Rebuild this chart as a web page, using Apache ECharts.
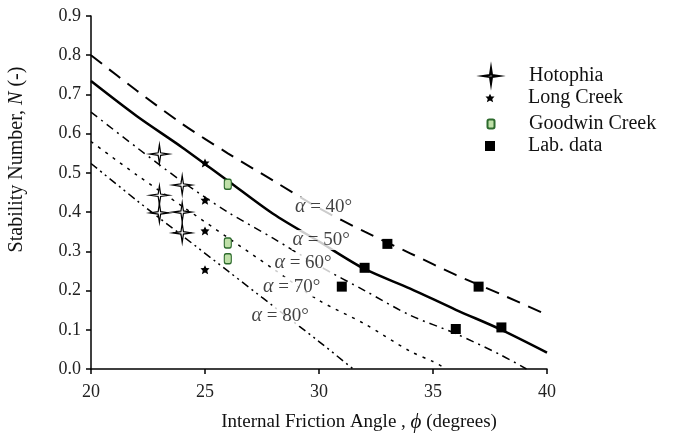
<!DOCTYPE html>
<html>
<head>
<meta charset="utf-8">
<title>Stability Number vs Internal Friction Angle</title>
<script src="https://cdn.jsdelivr.net/npm/echarts@6/dist/echarts.min.js"></script>
<style>
  html, body { margin: 0; padding: 0; background: #fff; }
  #chart { width: 679px; height: 436px; }
</style>
</head>
<body>
<div id="chart"></div>
<script>
// curves for each slope angle (phi in degrees, N)
const phi40 = [20, 22, 24, 26, 28, 30, 32, 34, 36, 38, 40]
const n40 = [0.80, 0.71, 0.625, 0.55, 0.48, 0.41, 0.35, 0.295, 0.24, 0.19, 0.138]
const phi50 = [20, 22, 24, 26, 28, 30, 32, 34, 36, 38, 40]
const n50 = [0.734, 0.645, 0.565, 0.48, 0.395, 0.325, 0.255, 0.205, 0.151, 0.10, 0.042]
const phi60 = [20, 22, 24, 26, 28, 30, 32, 34, 36, 38, 39.1]
const n60 = [0.655, 0.565, 0.478, 0.40, 0.333, 0.263, 0.20, 0.137, 0.09, 0.035, 0]
const phi70 = [20, 22, 24, 26, 28, 30, 32, 34, 35, 35.6]
const n70 = [0.58, 0.495, 0.415, 0.335, 0.255, 0.175, 0.115, 0.045, 0.019, 0]
const phi80 = [20, 22, 24, 26, 28, 30, 31.5]
const n80 = [0.524, 0.43, 0.34, 0.25, 0.16, 0.07, 0]

// measured data
const hotophiaPhi = [23, 23, 23, 24, 24, 24]
const hotophiaN = [0.548, 0.443, 0.398, 0.469, 0.40, 0.347]
const longCreekPhi = [25, 25, 25, 25]
const longCreekN = [0.525, 0.43, 0.352, 0.253]
const goodwinPhi = [26, 26, 26]
const goodwinN = [0.471, 0.321, 0.281]
const labPhi = [31, 32, 33, 36, 37, 38]
const labN = [0.21, 0.258, 0.319, 0.102, 0.21, 0.106]

// curve labels
const labelAngles = [40, 50, 60, 70, 80]
const labelPhi = [30.2, 30.1, 29.3, 28.8, 28.3]
const labelN = [0.413, 0.329, 0.27, 0.21, 0.136]

const xTicks = [20, 25, 30, 35, 40]
const yTicks = [0, 0.1, 0.2, 0.3, 0.4, 0.5, 0.6, 0.7, 0.8, 0.9]

const FONT = "'Liberation Serif', 'DejaVu Serif', serif"

function pairs (xs, ys) {
  return xs.map((x, i) => [x, ys[i]])
}

const starPath = 'path://M10,0 L11.3,8.7 L20,10 L11.3,11.3 L10,20 L8.7,11.3 L0,10 L8.7,8.7 Z'
const smallStar = 'path://M5,0 L6.5,3 L10,3.2 L7.5,5.8 L8.5,9.6 L5,7.6 L1.5,9.6 L2.5,5.8 L0,3.2 L3.5,3 Z'

function curve (name, xs, ys, type, width) {
  return {
    name: name,
    type: 'line',
    data: pairs(xs, ys),
    smooth: 0.3,
    showSymbol: false,
    silent: true,
    lineStyle: { color: '#000', width: width, type: type },
    z: 2
  }
}

function legendFor (name, top, w, h) {
  return {
    data: [name],
    left: 490 - w / 2,
    top: top,
    itemWidth: w,
    itemHeight: h,
    padding: 0,
    selectedMode: false,
    textStyle: {
      fontFamily: FONT,
      fontSize: 20,
      color: '#111',
      padding: [0, 0, 0, 33 - w / 2]
    }
  }
}

const chart = echarts.init(document.getElementById('chart'))
chart.setOption({
  animation: false,
  backgroundColor: '#fff',
  grid: { left: 91, right: 132, top: 16, bottom: 67, containLabel: false, outerBoundsMode: 'none' },
  legend: [
    legendFor('Hotophia', 66, 16, 16),
    legendFor('Long Creek', 88, 9, 9),
    legendFor('Goodwin Creek', 114, 7, 9),
    legendFor('Lab. data', 136, 10, 10)
  ],
  xAxis: {
    type: 'value',
    min: xTicks[0],
    max: xTicks[xTicks.length - 1],
    interval: 5,
    name: 'Internal Friction Angle , {i|ϕ} (degrees)',
    nameLocation: 'middle',
    nameGap: 43,
    nameTextStyle: {
      fontFamily: FONT,
      fontSize: 19,
      color: '#111',
      padding: [0, 0, 0, 80],
      rich: { i: { fontFamily: FONT, fontSize: 21, fontStyle: 'italic', color: '#111' } }
    },
    axisLine: { lineStyle: { color: '#000', width: 1.5 } },
    axisTick: { lineStyle: { color: '#000', width: 1.5 }, length: 5 },
    axisLabel: { fontFamily: FONT, fontSize: 18, color: '#222', margin: 14 },
    splitLine: { show: false }
  },
  yAxis: {
    type: 'value',
    min: yTicks[0],
    max: yTicks[yTicks.length - 1],
    interval: 0.1,
    name: 'Stability Number, {i|N} (-)',
    nameLocation: 'middle',
    nameGap: 64,
    nameTextStyle: {
      fontFamily: FONT,
      fontSize: 20,
      color: '#111',
      padding: [0, 0, 0, 66],
      rich: { i: { fontFamily: FONT, fontSize: 20, fontStyle: 'italic', color: '#111' } }
    },
    axisLine: { show: true, lineStyle: { color: '#000', width: 1.5 } },
    axisTick: { show: true, lineStyle: { color: '#000', width: 1.5 }, length: 5 },
    axisLabel: {
      fontFamily: FONT,
      fontSize: 18,
      color: '#222',
      margin: 10,
      formatter: function (value) {
        return value.toFixed(1)
      }
    },
    splitLine: { show: false }
  },
  series: [
    curve('a40', phi40, n40, [14, 9], 2),
    curve('a50', phi50, n50, 'solid', 2.5),
    curve('a60', phi60, n60, [8, 5, 2, 5], 1.5),
    curve('a70', phi70, n70, [3, 6], 1.5),
    curve('a80', phi80, n80, [8, 4, 2, 4, 2, 4], 1.5),
    {
      name: 'Hotophia',
      type: 'scatter',
      symbol: starPath,
      symbolSize: 19,
      data: pairs(hotophiaPhi, hotophiaN),
      itemStyle: { color: '#fff', borderColor: '#000', borderWidth: 1.2, opacity: 1 },
      z: 5
    },
    {
      name: 'Long Creek',
      type: 'scatter',
      symbol: smallStar,
      symbolSize: 9,
      data: pairs(longCreekPhi, longCreekN),
      itemStyle: { color: '#000', opacity: 1 },
      z: 5
    },
    {
      name: 'Goodwin Creek',
      type: 'scatter',
      symbol: 'roundRect',
      symbolSize: [7, 10],
      data: pairs(goodwinPhi, goodwinN),
      itemStyle: { color: '#bfe0a8', borderColor: '#2d6b2d', borderWidth: 1.3, opacity: 1 },
      z: 5
    },
    {
      name: 'Lab. data',
      type: 'scatter',
      symbol: 'rect',
      symbolSize: 10,
      data: pairs(labPhi, labN),
      itemStyle: { color: '#000', opacity: 1 },
      z: 5
    },
    {
      name: 'labels',
      type: 'scatter',
      symbolSize: 0,
      silent: true,
      data: labelPhi.map((p, i) => [p, labelN[i], labelAngles[i]]),
      label: {
        show: true,
        position: 'inside',
        fontFamily: FONT,
        fontSize: 19,
        color: '#111',
        backgroundColor: '#fff',
        padding: [0, 1],
        formatter: function (p) {
          return '{a|α} = ' + p.value[2] + '°'
        },
        rich: { a: { fontFamily: FONT, fontSize: 20, fontStyle: 'italic', color: '#111' } }
      },
      z: 6
    }
  ]
})
</script>
</body>
</html>
